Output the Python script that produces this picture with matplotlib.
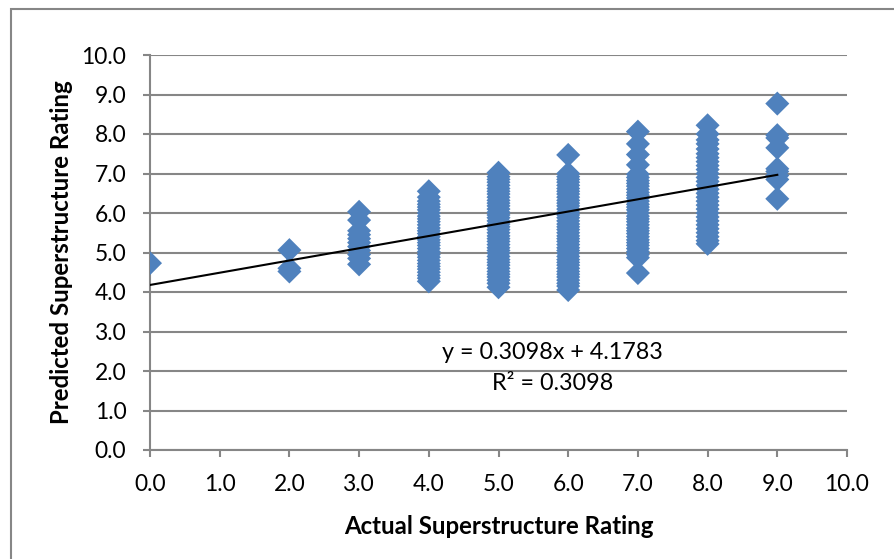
import matplotlib.pyplot as plt
from matplotlib.patches import Rectangle

# predicted ratings, grouped by actual rating
pred_0 = [4.73]
pred_2 = [5.06, 4.60, 4.52]
pred_3 = [6.03, 5.82, 5.55, 5.45, 5.35, 5.25, 5.15, 5.05, 4.95, 4.85, 4.70]
pred_4 = [6.55, 6.40, 6.30, 6.22, 6.15, 6.08, 6.00, 5.92, 5.85, 5.78, 5.70,
          5.62, 5.55, 5.48, 5.40, 5.32, 5.25, 5.18, 5.10, 5.02, 4.95, 4.88,
          4.80, 4.72, 4.65, 4.58, 4.50, 4.42, 4.35, 4.27]
pred_5 = [7.02, 6.92, 6.85, 6.78, 6.70, 6.62, 6.55, 6.48, 6.40, 6.32, 6.25,
          6.18, 6.10, 6.02, 5.95, 5.88, 5.80, 5.72, 5.65, 5.58, 5.50, 5.42,
          5.35, 5.28, 5.20, 5.12, 5.05, 4.98, 4.90, 4.82, 4.75, 4.68, 4.60,
          4.52, 4.45, 4.38, 4.30, 4.22, 4.12]
pred_6 = [7.47, 7.00, 6.92, 6.85, 6.78, 6.70, 6.62, 6.55, 6.48, 6.40, 6.32,
          6.25, 6.18, 6.10, 6.02, 5.95, 5.88, 5.80, 5.72, 5.65, 5.58, 5.50,
          5.42, 5.35, 5.28, 5.20, 5.12, 5.05, 4.98, 4.90, 4.82, 4.75, 4.68,
          4.60, 4.52, 4.45, 4.38, 4.30, 4.22, 4.15, 4.05]
pred_7 = [8.06, 7.75, 7.48, 7.22, 6.98, 6.90, 6.82, 6.75, 6.68, 6.60, 6.52,
          6.45, 6.38, 6.30, 6.22, 6.15, 6.08, 6.00, 5.92, 5.85, 5.78, 5.70,
          5.62, 5.55, 5.48, 5.40, 5.32, 5.25, 5.18, 5.10, 5.02, 4.95, 4.87,
          4.48]
pred_8 = [8.22, 8.00, 7.85, 7.75, 7.62, 7.50, 7.40, 7.30, 7.20, 7.10, 7.00,
          6.90, 6.80, 6.70, 6.60, 6.50, 6.40, 6.30, 6.20, 6.10, 6.00, 5.90,
          5.80, 5.70, 5.60, 5.50, 5.40, 5.30, 5.22]
pred_9 = [8.77, 7.97, 7.90, 7.65, 7.12, 7.05, 6.95, 6.85, 6.36]

actual_levels = [0, 2, 3, 4, 5, 6, 7, 8, 9]
predicted = [pred_0, pred_2, pred_3, pred_4, pred_5, pred_6, pred_7, pred_8, pred_9]

# Excel linear trendline
slope = 0.3098
intercept = 4.1783
r_squared = 0.3098

xs, ys = [], []
for a, vals in zip(actual_levels, predicted):
    xs += [a] * len(vals)
    ys += vals

plt.rcParams["font.family"] = ["Lato", "DejaVu Sans"]

fig = plt.figure(figsize=(8.94, 5.59), dpi=100)
ax = fig.add_axes([150 / 894, 1 - 450 / 559, 697 / 894, 395 / 559])
renderer = fig.canvas.get_renderer()


def fit_size(s, width_px, weight="normal"):
    # font size that makes s about width_px wide (the reference uses Calibri)
    t = fig.text(0, 0, s, fontsize=20, fontweight=weight)
    w = t.get_window_extent(renderer).width
    t.remove()
    return 20 * width_px / w


tick_fs = fit_size("10.0", 45)
label_fs = fit_size("Actual Superstructure Rating", 310, "bold")
eq_fs = fit_size("R\u00b2 = 0.3098", 121)

ax.scatter(xs, ys, marker="D", s=150, color="#4F81BD", edgecolors="none", zorder=3)

tx = [min(xs), max(xs)]
ax.plot(tx, [slope * t + intercept for t in tx], color="black", lw=1.5, zorder=4)

ax.text(5.78, 2.47, f"y = {slope:.4f}x + {intercept:.4f}", ha="center", va="center", fontsize=eq_fs)
ax.text(5.78, 1.68, f"R\u00b2 = {r_squared:.4f}", ha="center", va="center", fontsize=eq_fs)

ax.set_xlim(0, 10)
ax.set_ylim(0, 10)
ticks = [0, 1, 2, 3, 4, 5, 6, 7, 8, 9, 10]
ax.set_xticks(ticks)
ax.set_yticks(ticks)
ax.set_xticklabels([f"{t:.1f}" for t in ticks])
ax.set_yticklabels([f"{t:.1f}" for t in ticks])
ax.tick_params(axis="both", labelsize=tick_fs, color="#868686", length=5, width=1.5)
ax.tick_params(axis="x", pad=12)
ax.tick_params(axis="y", pad=12)

ax.grid(axis="y", color="#868686", lw=1.5)
ax.set_axisbelow(True)
for side in ["top", "right"]:
    ax.spines[side].set_visible(False)
for side in ["left", "bottom"]:
    ax.spines[side].set_color("#868686")
    ax.spines[side].set_linewidth(1.5)

ax.set_xlabel("Actual Superstructure Rating", fontsize=label_fs, fontweight="bold", labelpad=15)
ax.set_ylabel("Predicted Superstructure Rating", fontsize=label_fs, fontweight="bold", labelpad=6)

fig.patches.append(Rectangle((11 / 894, -0.1), 1.2, 1 - 9 / 559 + 0.1, transform=fig.transFigure,
                             fill=False, edgecolor="#868686", lw=1.5))

fig.savefig("out.png", dpi=100)
